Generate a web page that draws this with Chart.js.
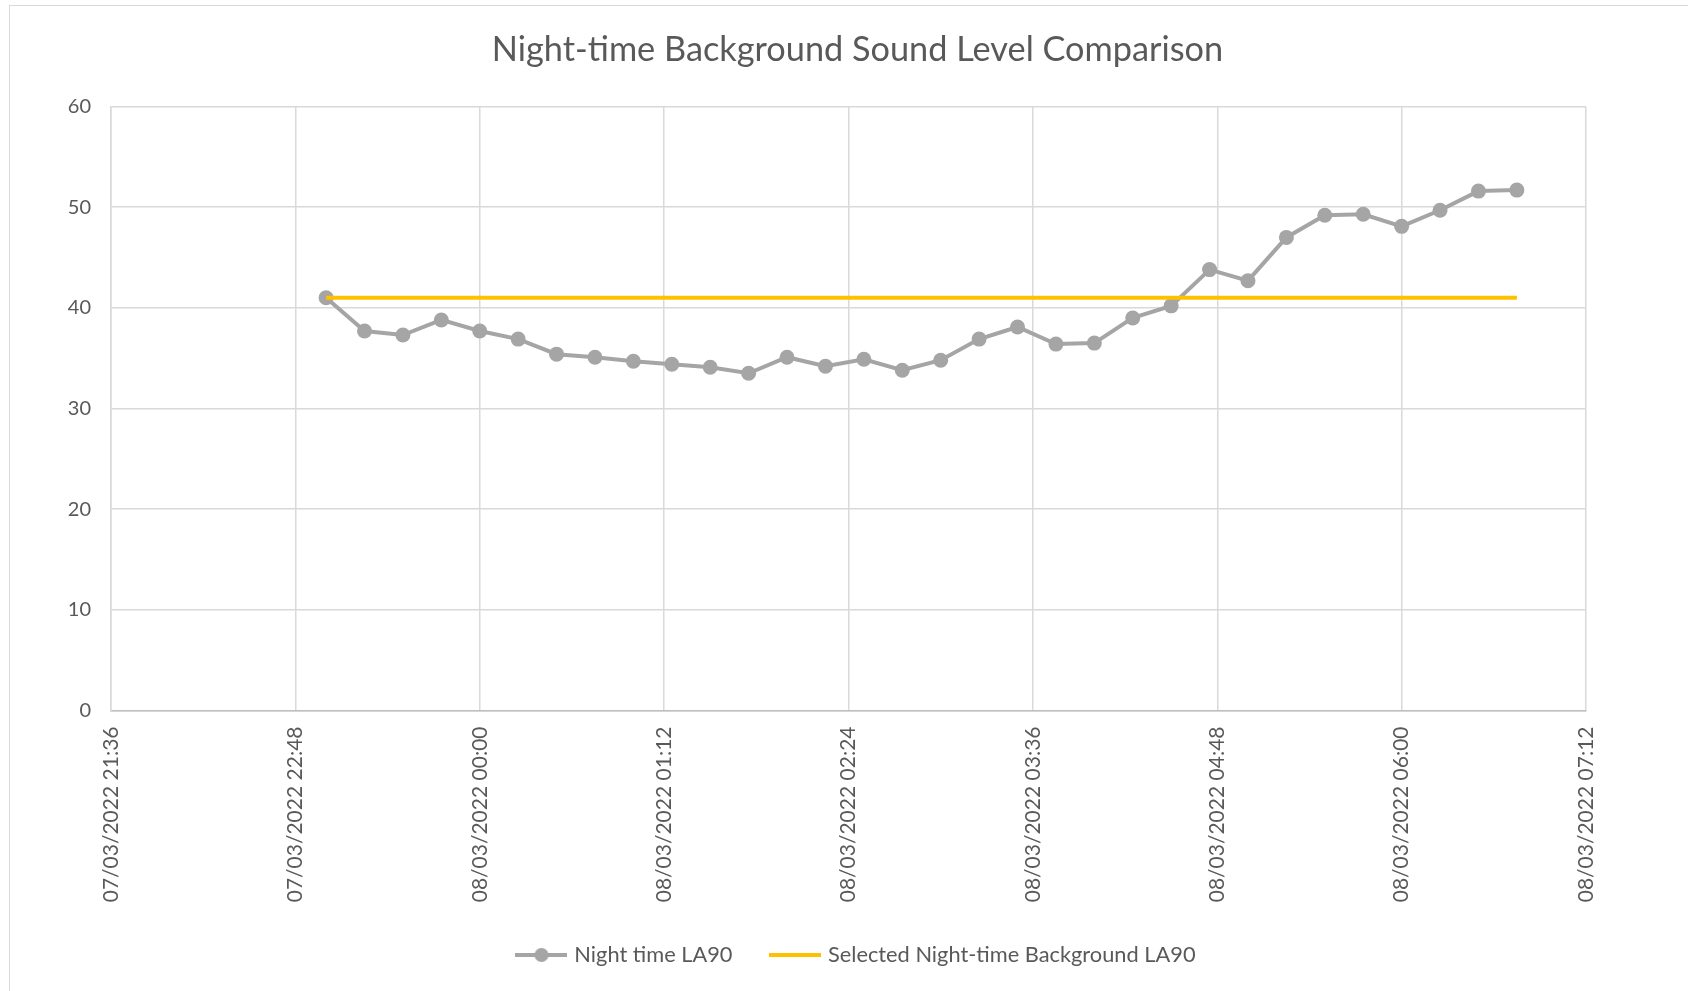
<!DOCTYPE html>
<html lang="en">
  <head>
    <meta charset="utf-8" />
    <title>Night-time Background Sound Level Comparison</title>
    <style>
      * {
        margin: 0;
        padding: 0;
      }
      body {
        background: white;
        width: 1688px;
        height: 991px;
        overflow: hidden;
      }
      .chartFrame {
        position: absolute;
        left: 9px;
        top: 5px;
        width: 1720px;
        height: 1020px;
        border-left: 1px solid #d9d9d9;
        border-top: 1px solid #d9d9d9;
      }
      .chartBox {
        position: absolute;
        left: 0;
        top: 0;
      }
    </style>
  </head>
  <body>
    <div class="chartFrame"></div>
    <div class="chartBox">
      <canvas id="myChart" width="1688" height="991"></canvas>
    </div>

    <script src="https://cdn.jsdelivr.net/npm/chart.js"></script>

    <script>
      // measurement times (15 minute intervals)
      const times = [
        "07/03/2022 23:00", "07/03/2022 23:15", "07/03/2022 23:30", "07/03/2022 23:45",
        "08/03/2022 00:00", "08/03/2022 00:15", "08/03/2022 00:30", "08/03/2022 00:45",
        "08/03/2022 01:00", "08/03/2022 01:15", "08/03/2022 01:30", "08/03/2022 01:45",
        "08/03/2022 02:00", "08/03/2022 02:15", "08/03/2022 02:30", "08/03/2022 02:45",
        "08/03/2022 03:00", "08/03/2022 03:15", "08/03/2022 03:30", "08/03/2022 03:45",
        "08/03/2022 04:00", "08/03/2022 04:15", "08/03/2022 04:30", "08/03/2022 04:45",
        "08/03/2022 05:00", "08/03/2022 05:15", "08/03/2022 05:30", "08/03/2022 05:45",
        "08/03/2022 06:00", "08/03/2022 06:15", "08/03/2022 06:30", "08/03/2022 06:45",
      ];

      // Night time LA90 (dB)
      const nightLA90 = [
        41.0, 37.7, 37.3, 38.8, 37.7, 36.9, 35.4, 35.1,
        34.7, 34.4, 34.1, 33.5, 35.1, 34.2, 34.9, 33.8,
        34.8, 36.9, 38.1, 36.4, 36.5, 39.0, 40.2, 43.8,
        42.7, 47.0, 49.2, 49.3, 48.1, 49.7, 51.6, 51.7,
      ];

      // selected background level, flat over the whole night
      const selectedLA90 = 41;

      // axis tick labels
      const xTickLabels = [
        "07/03/2022 21:36", "07/03/2022 22:48", "08/03/2022 00:00",
        "08/03/2022 01:12", "08/03/2022 02:24", "08/03/2022 03:36",
        "08/03/2022 04:48", "08/03/2022 06:00", "08/03/2022 07:12",
      ];
      const yTicks = [0, 10, 20, 30, 40, 50, 60];

      const seriesNames = ["Night time LA90", "Selected Night-time Background LA90"];
      const greyColor = "#a5a5a5";
      const yellowColor = "#ffc000";
      const textColor = "#595959";
      const gridColor = "#d9d9d9";

      // "DD/MM/YYYY HH:MM" -> minutes
      function toMinutes(s) {
        const [date, time] = s.split(" ");
        const [d, m, y] = date.split("/").map(Number);
        const [hh, mm] = time.split(":").map(Number);
        return Date.UTC(y, m - 1, d, hh, mm) / 60000;
      }
      const origin = toMinutes(xTickLabels[0]);
      const xPos = (s) => toMinutes(s) - origin;
      const xStep = xPos(xTickLabels[1]);

      // legend markers drawn like the excel ones
      function legendMarker(color, withDot) {
        const c = document.createElement("canvas");
        c.width = 52;
        c.height = 16;
        const g = c.getContext("2d");
        g.strokeStyle = color;
        g.lineWidth = 4;
        g.beginPath();
        g.moveTo(0, 8);
        g.lineTo(52, 8);
        g.stroke();
        if (withDot) {
          g.fillStyle = color;
          g.beginPath();
          g.arc(26, 8, 7, 0, Math.PI * 2);
          g.fill();
        }
        return c;
      }

      Chart.defaults.font.family = "Lato, 'Open Sans', sans-serif";
      Chart.defaults.color = textColor;

      const data = {
        datasets: [
          {
            label: seriesNames[0],
            data: times.map((t, i) => ({ x: xPos(t), y: nightLA90[i] })),
            borderColor: greyColor,
            backgroundColor: greyColor,
            borderWidth: 4,
            pointRadius: 7.5,
            pointBorderWidth: 0,
            pointBackgroundColor: greyColor,
            order: 1,
          },
          {
            label: seriesNames[1],
            data: [
              { x: xPos(times[0]), y: selectedLA90 },
              { x: xPos(times[times.length - 1]), y: selectedLA90 },
            ],
            borderColor: yellowColor,
            backgroundColor: yellowColor,
            borderWidth: 4,
            pointRadius: 0,
            order: 0,
          },
        ],
      };

      const config = {
        type: "line",
        data: data,
        options: {
          responsive: false,
          animation: false,
          layout: { padding: { left: 27, right: 0, top: 0, bottom: 15.1 } },
          plugins: {
            tooltip: { enabled: false },
            title: {
              display: true,
              text: "Night-time Background Sound Level Comparison",
              color: textColor,
              font: { size: 34.3, weight: "normal", lineHeight: 1.2 },
              padding: { top: 28.9, bottom: 36.5 },
            },
            legend: {
              position: "bottom",
              labels: {
                color: textColor,
                font: { size: 21.8 },
                padding: 40.6,
                usePointStyle: true,
                pointStyleWidth: 44,
                generateLabels(chart) {
                  return chart.data.datasets.map((ds, i) => ({
                    text: ds.label,
                    fillStyle: ds.borderColor,
                    strokeStyle: ds.borderColor,
                    lineWidth: 0,
                    hidden: false,
                    datasetIndex: i,
                    fontColor: textColor,
                    pointStyle: legendMarker(ds.borderColor, i === 0),
                  }));
                },
              },
            },
          },
          scales: {
            x: {
              type: "linear",
              min: 0,
              max: xPos(xTickLabels[xTickLabels.length - 1]),
              grid: { color: gridColor, lineWidth: 1.5, drawTicks: false },
              border: { color: "#bfbfbf", width: 1.5 },
              ticks: {
                stepSize: xStep,
                autoSkip: false,
                maxRotation: 90,
                minRotation: 90,
                padding: 16,
                color: textColor,
                font: { size: 21 },
                callback: (value) => xTickLabels[Math.round(value / xStep)],
              },
              afterFit(scale) {
                scale.height = 193;
                scale.paddingRight = 102;
              },
            },
            y: {
              min: yTicks[0],
              max: yTicks[yTicks.length - 1],
              grid: { color: gridColor, lineWidth: 1.5, drawTicks: false },
              border: { color: gridColor, width: 1.5 },
              ticks: {
                stepSize: yTicks[1] - yTicks[0],
                padding: 20,
                color: textColor,
                font: { size: 20 },
              },
              afterFit(scale) {
                scale.width = 84;
              },
            },
          },
        },
      };

      const myChart = new Chart(document.getElementById("myChart"), config);
    </script>
  </body>
</html>
